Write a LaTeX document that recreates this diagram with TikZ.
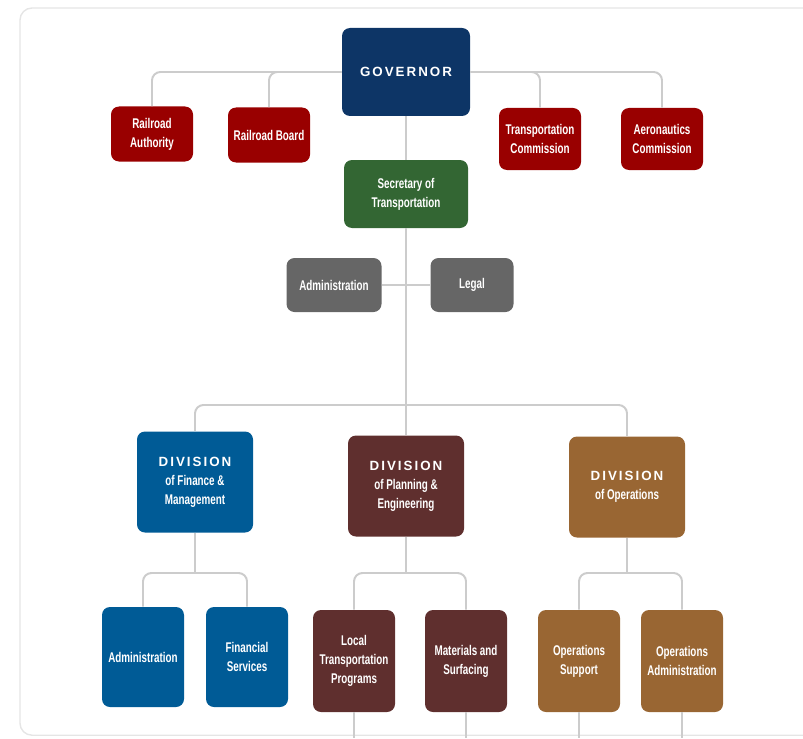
\documentclass[tikz,border=0pt]{standalone}
\usepackage{fontspec}
\setmainfont{Liberation Sans}
\newfontfamily\narrowfont{Liberation Sans}[FakeStretch=0.7]
\newfontfamily\spacedfont{Liberation Sans}[LetterSpace=15]
\newcommand\divword{{\spacedfont\bfseries\fontsize{9.5}{13.5}\selectfont DIVISION}}
\definecolor{govblue}{RGB}{13,53,102}
\definecolor{boardred}{RGB}{153,0,0}
\definecolor{secgreen}{RGB}{51,102,51}
\definecolor{staffgray}{RGB}{102,102,102}
\definecolor{finblue}{RGB}{0,91,150}
\definecolor{planred}{RGB}{95,47,46}
\definecolor{opsbrown}{RGB}{153,102,51}
\definecolor{linkgray}{RGB}{204,204,204}

\begin{document}
\begin{tikzpicture}[
  box/.style={rectangle,rounded corners=0.2cm,text=white,align=center,inner sep=1pt,
    font=\narrowfont\bfseries\fontsize{10}{13.5}\selectfont},
  board/.style={box,fill=boardred,minimum width=2.05cm},
  staff/.style={box,fill=staffgray,minimum width=2.075cm,minimum height=1.35cm},
  division/.style={box,minimum width=2.9cm,minimum height=2.525cm},
  unit/.style={box,minimum width=2.05cm,minimum height=2.55cm},
  link/.style={draw=linkgray,line width=1.4pt,rounded corners=6pt}]
\clip (0,0) rectangle (20.075,-18.45);
\useasboundingbox (0,0) rectangle (20.075,-18.45);
\draw[gray!20,line width=1pt,rounded corners=0.3cm] (0.5,-0.2) rectangle (20.6,-18.38);
\coordinate (bottom) at (0,-18.45);

\node[box,fill=govblue,minimum width=3.2cm,minimum height=2.2cm,
  font=\spacedfont\bfseries\fontsize{9.5}{12}\selectfont] (gov) at (10.15,-1.8) {GOVERNOR};
\node[board,minimum height=1.375cm] (rrauth) at (3.8,-3.35) {Railroad\\Authority};
\node[board,minimum height=1.375cm] (rrboard) at (6.725,-3.375) {Railroad Board};
\node[board,minimum height=1.55cm] (tcomm) at (13.5,-3.475) {Transportation\\Commission};
\node[board,minimum height=1.55cm] (acomm) at (16.55,-3.475) {Aeronautics\\Commission};
\node[box,fill=secgreen,minimum width=3.1cm,minimum height=1.7cm] (sec) at (10.15,-4.85) {Secretary of\\Transportation};
\node[staff,minimum width=2.375cm] (adm) at (8.35,-7.125) {Administration};
\node[staff] (legal) at (11.8,-7.125) {Legal};
\coordinate (split) at (10.15,-10.125);

\node[division,fill=finblue] (divfin) at (4.875,-12.05) {\divword\\of Finance \&\\Management};
\node[division,fill=planred] (divplan) at (10.15,-12.15) {\divword\\of Planning \&\\Engineering};
\node[division,fill=opsbrown] (divops) at (15.675,-12.175) {\divword\\of Operations};

\coordinate (finsplit) at (4.875,-14.325);
\coordinate (plansplit) at (10.15,-14.325);
\coordinate (opssplit) at (15.675,-14.325);
\node[unit,fill=finblue,minimum height=2.5cm] (finadm) at (3.575,-16.425) {Administration};
\node[unit,fill=finblue,minimum height=2.5cm] (finsvc) at (6.175,-16.425) {Financial\\Services};
\node[unit,fill=planred] (ltp) at (8.85,-16.525) {Local\\Transportation\\Programs};
\node[unit,fill=planred] (mat) at (11.65,-16.525) {Materials and\\Surfacing};
\node[unit,fill=opsbrown] (opsup) at (14.475,-16.525) {Operations\\Support};
\node[unit,fill=opsbrown] (opsadm) at (17.05,-16.525) {Operations\\Administration};

\draw[link] (gov.west) -| (rrauth.north);
\draw[link] (gov.west) -| (rrboard.north);
\draw[link] (gov.east) -| (tcomm.north);
\draw[link] (gov.east) -| (acomm.north);
\draw[link] (gov.south) -- (sec.north);
\draw[link] (sec.south) -- (divplan.north);
\draw[link] (adm.east) -- (legal.west);
\draw[link] (split) -| (divfin.north);
\draw[link] (split) -| (divops.north);
\draw[link] (divfin.south) -- (finsplit);
\draw[link] (finsplit) -| (finadm.north);
\draw[link] (finsplit) -| (finsvc.north);
\draw[link] (divplan.south) -- (plansplit);
\draw[link] (plansplit) -| (ltp.north);
\draw[link] (plansplit) -| (mat.north);
\draw[link] (divops.south) -- (opssplit);
\draw[link] (opssplit) -| (opsup.north);
\draw[link] (opssplit) -| (opsadm.north);
\draw[link] (ltp.south) -- (ltp.south |- bottom);
\draw[link] (mat.south) -- (mat.south |- bottom);
\draw[link] (opsup.south) -- (opsup.south |- bottom);
\draw[link] (opsadm.south) -- (opsadm.south |- bottom);
\end{tikzpicture}
\end{document}
